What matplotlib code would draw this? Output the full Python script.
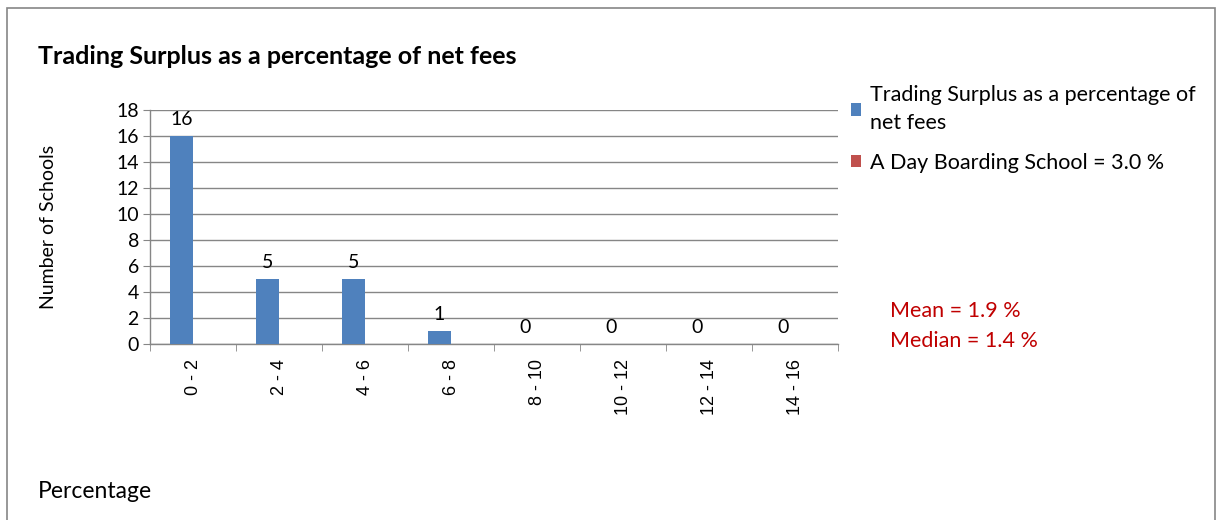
import numpy as np
import matplotlib
matplotlib.use("Agg")
import matplotlib.pyplot as plt
from matplotlib.patches import Rectangle, Patch

# data
categories = ["0 - 2", "2 - 4", "4 - 6", "6 - 8", "8 - 10", "10 - 12", "12 - 14", "14 - 16"]
counts = [16, 5, 5, 1, 0, 0, 0, 0]
school_counts = [0, 0, 0, 0, 0, 0, 0, 0]   # "A Day Boarding School" series, no visible bars
y_ticks = [0, 2, 4, 6, 8, 10, 12, 14, 16, 18]

series_name = "Trading Surplus as a percentage of\nnet fees"
school_name = "A Day Boarding School = 3.0 %"
mean_txt = "Mean = 1.9 %"
median_txt = "Median = 1.4 %"

blue = "#4F81BD"
red = "#C0504D"
grey = "#868686"

plt.rcParams["font.family"] = ["Lato", "DejaVu Sans"]

fig = plt.figure(figsize=(12.22, 5.2), dpi=100)
ax = fig.add_axes([150 / 1222, 1 - 344 / 520, (838 - 150) / 1222, (344 - 110) / 520])

x = np.arange(len(categories))
w = 0.27
ax.bar(x - w / 2, counts, width=w, color=blue, zorder=3)
ax.bar(x + w / 2, school_counts, width=w, color=red, zorder=3)

for xi, v in zip(x, counts):
    ax.text(xi - w / 2, v + 0.6, str(v), ha="center", va="bottom", fontsize=14, color="black")

ax.set_xlim(-0.5, len(categories) - 0.5)
ax.set_ylim(0, 18)
ax.set_yticks(y_ticks)
ax.tick_params(axis="y", labelsize=14, length=5, color=grey, pad=3)
ax.yaxis.grid(True, color=grey, linewidth=1, zorder=0)

ax.set_xticks(x)
ax.set_xticklabels(categories, rotation=90, fontsize=13, family=["Liberation Sans", "DejaVu Sans"])
ax.tick_params(axis="x", which="major", length=0, pad=11)
ax.set_xticks(np.arange(len(categories) + 1) - 0.5, minor=True)
ax.tick_params(axis="x", which="minor", length=5, color=grey, direction="out")

for s in ["top", "right"]:
    ax.spines[s].set_visible(False)
for s in ["left", "bottom"]:
    ax.spines[s].set_color(grey)
    ax.spines[s].set_linewidth(1)

ax.set_ylabel("Number of Schools", fontsize=14)
ax.yaxis.set_label_coords(-93 / 688, 0.5)

fig.text(38 / 1222, 1 - 57 / 520, "Trading Surplus as a percentage of net fees",
         fontsize=18, fontweight="bold", va="center", ha="left")
fig.text(38 / 1222, 1 - 492 / 520, "Percentage", fontsize=16.5, va="center", ha="left")

handles = [Patch(facecolor=blue, edgecolor="none"), Patch(facecolor=red, edgecolor="none")]
leg = fig.legend(handles, [series_name, school_name], loc="upper left",
                 bbox_to_anchor=(842 / 1222, 1 - 76 / 520), frameon=False, fontsize=15.5,
                 handlelength=0.5, handleheight=0.5, handletextpad=0.4, labelspacing=0.9,
                 borderaxespad=0)
for t in leg.get_texts():
    t.set_linespacing(1.55)

fig.text(890 / 1222, 1 - 311 / 520, mean_txt, color="#C00000", fontsize=15.5, va="center")
fig.text(890 / 1222, 1 - 341 / 520, median_txt, color="#C00000", fontsize=15.5, va="center")

fig.patches.append(Rectangle((7 / 1222, -0.02), 1208 / 1222, 1.02 - 8 / 520,
                             transform=fig.transFigure, fill=False, edgecolor=grey, linewidth=1.2))

fig.savefig("out.png", dpi=100)
